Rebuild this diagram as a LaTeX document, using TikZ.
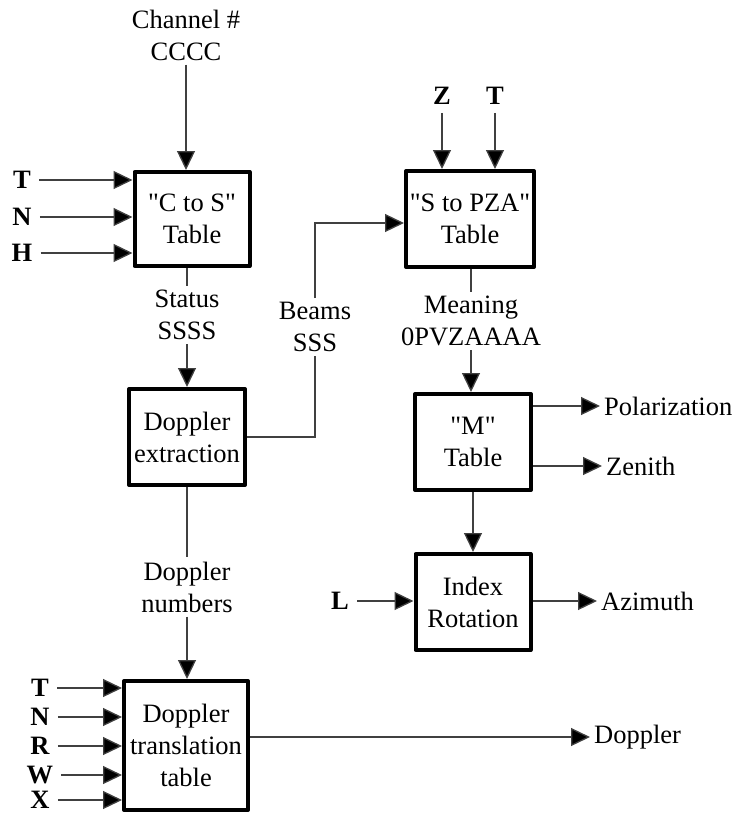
\documentclass[tikz,border=0pt]{standalone}
\usepackage{fontspec}
\newfontfamily\dfont{Liberation Serif}
\usetikzlibrary{arrows.meta}
\begin{document}
\begin{tikzpicture}[x=1pt,y=-1pt,
  font=\dfont\fontsize{26.5}{32}\selectfont,
  box/.style={draw,line width=4pt,inner sep=0pt,align=center,line join=round},
  lbl/.style={align=center,inner sep=4pt},
  inl/.style={font=\dfont\fontsize{26.5}{32}\selectfont\bfseries,inner sep=8pt},
  conn/.style={line width=1.3pt,draw=black!75},
  arr/.style={conn,-{Triangle[length=19pt,width=18pt,fill=black]}}
]
\useasboundingbox (0,0) rectangle (737,815);
% boxes
\node[box,minimum width=115pt,minimum height=94pt] (cts) at (192,219) {"C to S"\\Table};
\node[box,minimum width=116pt,minimum height=96pt] (dex) at (187,437) {Doppler\\extraction};
\node[box,minimum width=128pt,minimum height=96pt] (pza) at (470,219) {"S to PZA"\\Table};
\node[box,minimum width=116pt,minimum height=96pt] (mt) at (473,442) {"M"\\Table};
\node[box,minimum width=115pt,minimum height=96pt] (ir) at (473,602) {Index\\Rotation};
\node[box,minimum width=124pt,minimum height=129pt] (dtt) at (186,745.5) {Doppler\\translation\\table};
% labels
\node[lbl] (chan) at (186,35) {Channel \#\\CCCC};
\node[lbl] (status) at (187,315) {Status\\SSSS};
\node[lbl] (beams) at (315,327) {Beams\\SSS};
\node[lbl] (mean) at (471,321) {Meaning\\0PVZAAAA};
\node[lbl] (dn) at (187,587) {Doppler\\numbers};
\node[inl] (z) at (442,96) {Z};
\node[inl] (t2) at (495,96) {T};
\node[inl] (t1) at (22,180) {T};
\node[inl] (n1) at (22,217) {N};
\node[inl] (h1) at (22,253) {H};
\node[inl] (l) at (340,601) {L};
\node[inl] (t3) at (40,688) {T};
\node[inl] (n3) at (40,717) {N};
\node[inl] (r3) at (40,746) {R};
\node[inl] (w3) at (40,775) {W};
\node[inl] (x3) at (40,800) {X};
\node[lbl,anchor=west] (pol) at (600,406) {Polarization};
\node[lbl,anchor=west] (zen) at (602,466) {Zenith};
\node[lbl,anchor=west] (azi) at (597,601) {Azimuth};
\node[lbl,anchor=west] (dop) at (590,737) {Doppler};
% connectors
\draw[arr] (chan.south) -- (chan.south |- cts.north);
\draw[arr] (t1.east) -- (t1.east -| cts.west);
\draw[arr] (n1.east) -- (n1.east -| cts.west);
\draw[arr] (h1.east) -- (h1.east -| cts.west);
\draw[conn] (status.north |- cts.south) -- (status.north);
\draw[arr] (status.south) -- (status.south |- dex.north);
\draw[conn] (dex.east) -| (beams.south);
\draw[arr] (beams.north) |- ([yshift=-4pt]pza.west);
\draw[arr] (z.south) -- (z.south |- pza.north);
\draw[arr] (t2.south) -- (t2.south |- pza.north);
\draw[conn] (mean.north |- pza.south) -- (mean.north);
\draw[arr] (mean.south) -- (mean.south |- mt.north);
\draw[arr] (mt.east |- pol.west) -- (pol.west);
\draw[arr] (mt.east |- zen.west) -- (zen.west);
\draw[arr] (mt.south) -- (ir.north);
\draw[arr] (l.east) -- (l.east -| ir.west);
\draw[arr] (ir.east |- azi.west) -- (azi.west);
\draw[conn] (dex.south) -- (dn.north);
\draw[arr] (dn.south) -- (dn.south |- dtt.north);
\draw[arr] (t3.east) -- (t3.east -| dtt.west);
\draw[arr] (n3.east) -- (n3.east -| dtt.west);
\draw[arr] (r3.east) -- (r3.east -| dtt.west);
\draw[arr] (w3.east) -- (w3.east -| dtt.west);
\draw[arr] (x3.east) -- (x3.east -| dtt.west);
\draw[arr] (dtt.east |- dop.west) -- (dop.west);
\end{tikzpicture}
\end{document}
